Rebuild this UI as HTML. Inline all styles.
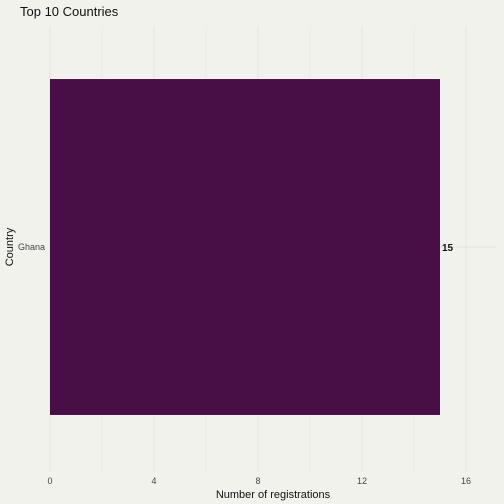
<!DOCTYPE html>
<html><head><style>
html,body{margin:0;padding:0;background:#f2f2ed;font-family:"Liberation Sans",sans-serif;overflow:hidden;}
svg{display:block;}
svg text{font-family:"Liberation Sans",sans-serif;}
</style></head><body>
<svg width="504" height="504">
<rect width="504" height="504" fill="#f2f2ed"/>
<text x="20" y="16" font-size="13" fill="#111">Top 10 Countries</text>
<g id="grid"></g>
<g id="bars"></g>
<g id="xticks"></g>
<g id="yticks"></g>
<text x="273" y="498" font-size="11" text-anchor="middle" fill="#111">Number of registrations</text>
<text transform="translate(13,247) rotate(-90)" font-size="11" text-anchor="middle" fill="#111">Country</text>
</svg>
<script>
const categories=["Ghana"];
const values=[15];
const tickValues=[0,4,8,12,16];
const NS="http://www.w3.org/2000/svg";
const x=v=>50+v*26;
const plotTop=26,plotBottom=468;
const band=(plotBottom-plotTop)/categories.length;
const y=i=>plotTop+band*(i+0.5);
function mk(t,a,p){const e=document.createElementNS(NS,t);for(const k in a)e.setAttribute(k,a[k]);document.getElementById(p).appendChild(e);return e;}
for(let v=0;v<=17;v+=2){
const g=mk('line',{x1:x(v),x2:x(v),y1:plotTop,y2:plotBottom+4,stroke:v%4==0?'#e4e4e0':'#ebebe6','stroke-width':1},'grid');


}
categories.forEach((c,i)=>{
const gl=mk('line',{x1:x(0)-1,x2:496,y1:y(i),y2:y(i),stroke:'#e4e4e0'},'grid');


const h=band*0.76;
const b=mk('rect',{x:x(0),y:y(i)-h/2,width:x(values[i])-x(0),height:h,fill:'#480e46'},'bars');


const l=mk('text',{x:x(values[i])+2,y:y(i)+4,'font-size':10,'font-weight':'bold',fill:'#111'},'bars');
l.textContent=values[i];


const t=mk('text',{x:45,y:y(i)+3,'font-size':9,'text-anchor':'end',fill:'#444'},'yticks');
t.textContent=c;


});
tickValues.forEach(v=>{
const t=mk('text',{x:x(v),y:484,'font-size':9,'text-anchor':'middle',fill:'#444'},'xticks');
t.textContent=v;


});
</script>
</body></html>
